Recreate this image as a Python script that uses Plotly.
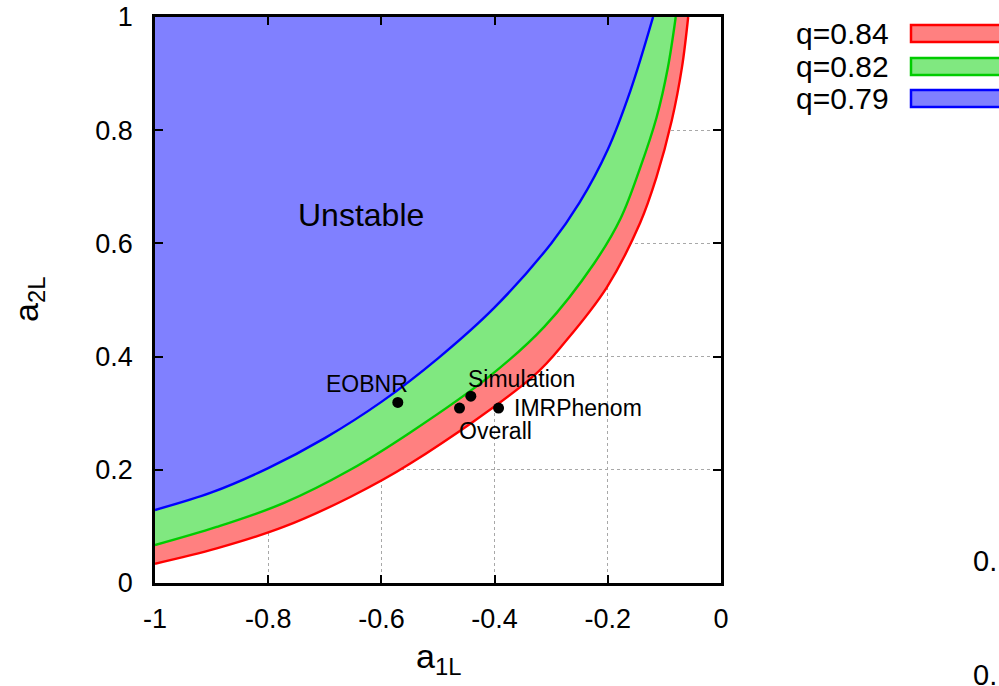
import plotly.graph_objects as go

# ---- data ----
q_labels = ["q=0.84", "q=0.82", "q=0.79"]
line_colors = ["#ff0000", "#00cc00", "#0000ff"]
fill_colors = ["#ff8080", "#80e880", "#8080ff"]

red_x = [-1.0, -0.891, -0.773, -0.655, -0.549, -0.332, -0.273, -0.202, -0.143, -0.114, -0.087, -0.069, -0.058]
red_y = [0.034, 0.061, 0.099, 0.152, 0.211, 0.365, 0.429, 0.522, 0.636, 0.717, 0.817, 0.911, 1.0]

green_x = [-1.0, -0.891, -0.773, -0.655, -0.549, -0.408, -0.312, -0.224, -0.177, -0.143, -0.114, -0.094, -0.080]
green_y = [0.067, 0.099, 0.141, 0.200, 0.266, 0.366, 0.453, 0.565, 0.645, 0.733, 0.822, 0.910, 1.0]

blue_x = [-1.0, -0.9, -0.8, -0.7, -0.6, -0.5, -0.4, -0.3, -0.25, -0.2, -0.16, -0.12]
blue_y = [0.129, 0.160, 0.203, 0.256, 0.320, 0.397, 0.487, 0.600, 0.672, 0.766, 0.870, 1.0]

curves_x = [red_x, green_x, blue_x]
curves_y = [red_y, green_y, blue_y]

point_names = ["EOBNR", "Simulation", "IMRPhenom", "Overall"]
point_x = [-0.571, -0.442, -0.393, -0.462]
point_y = [0.319, 0.330, 0.309, 0.309]
# label placement (pixel offsets / anchors) -- styling only
label_anchor = ["center", "left", "left", "left"]
label_dx = [-31, -5, 13, -3]
label_dy = [18, 17, 0, -23]

region_label = "Unstable"
region_label_xy = (-0.636, 0.650)

x_ticks = [-1, -0.8, -0.6, -0.4, -0.2, 0]
x_ticktext = ["-1", "-0.8", "-0.6", "-0.4", "-0.2", "0"]
y_ticks = [0, 0.2, 0.4, 0.6, 0.8, 1]
y_ticktext = ["0", "0.2", "0.4", "0.6", "0.8", "1"]

FONT = "Liberation Sans, Arial, Helvetica, sans-serif"

fig = go.Figure()

def closed_region(xs, ys):
    # extend curve beyond the frame along its end directions, then close
    x0e = xs[0] - (xs[1] - xs[0]) * 1.0
    y0e = ys[0] - (ys[1] - ys[0]) * 1.0
    x1e = xs[-1] + (xs[-1] - xs[-2]) * 2.0
    y1e = ys[-1] + (ys[-1] - ys[-2]) * 2.0
    px = [x0e] + list(xs) + [x1e, x1e, -1.4, -1.4]
    py = [y0e] + list(ys) + [y1e, 1.4, 1.4, y0e]
    return px, py

SMOOTH = 1.0

# filled regions (red, green, blue drawn in that order)
for i in range(3):
    px, py = closed_region(curves_x[i], curves_y[i])
    fig.add_trace(go.Scatter(
        x=px, y=py, mode="lines", fill="toself",
        fillcolor=fill_colors[i],
        line=dict(color="rgba(0,0,0,0)", width=0, shape="spline", smoothing=SMOOTH),
        name=q_labels[i], showlegend=False, hoverinfo="skip"))

for i in range(3):
    fig.add_trace(go.Scatter(
        x=curves_x[i], y=curves_y[i], mode="lines",
        line=dict(color=line_colors[i], width=2.4, shape="spline", smoothing=SMOOTH),
        showlegend=False, hoverinfo="skip"))

fig.add_trace(go.Scatter(
    x=point_x, y=point_y, mode="markers",
    marker=dict(color="black", size=11),
    showlegend=False, hoverinfo="skip"))

annotations = []
for n, xv, yv, a, dx, dy in zip(point_names, point_x, point_y, label_anchor, label_dx, label_dy):
    annotations.append(dict(x=xv, y=yv, xref="x", yref="y", text=n, showarrow=False,
                            xanchor=a, yanchor="middle", xshift=dx, yshift=dy,
                            font=dict(family=FONT, size=23, color="black")))

annotations.append(dict(x=region_label_xy[0], y=region_label_xy[1], xref="x", yref="y",
                        text=region_label, showarrow=False, xanchor="center", yanchor="middle",
                        font=dict(family=FONT, size=32, color="black")))

# axis titles
annotations.append(dict(x=(438 - 155) / 566, y=(583 - 658) / 566, xref="paper", yref="paper",
                        text="a<sub>1L</sub>", showarrow=False, xanchor="center", yanchor="middle",
                        font=dict(family=FONT, size=34, color="black")))
annotations.append(dict(x=(28 - 155) / 566, y=(583 - 300) / 566, xref="paper", yref="paper",
                        text="a<sub>2L</sub>", showarrow=False, textangle=-90,
                        xanchor="center", yanchor="middle",
                        font=dict(family=FONT, size=34, color="black")))

# legend (text left, swatch right), outside the plot on the right
shapes = []
row_top = [25, 58, 90]
for i in range(3):
    top = row_top[i]
    bot = top + 17
    shapes.append(dict(type="rect", xref="paper", yref="paper",
                       x0=(911 - 155) / 566, x1=(1012 - 155) / 566,
                       y0=(583 - bot) / 566, y1=(583 - top) / 566,
                       fillcolor=fill_colors[i], line=dict(color=line_colors[i], width=2.5)))
    annotations.append(dict(x=(891 - 155) / 566, y=(583 - (top + 8.5)) / 566,
                            xref="paper", yref="paper", text=q_labels[i], showarrow=False,
                            xanchor="right", yanchor="middle",
                            font=dict(family=FONT, size=30, color="black")))

# clipped labels from a neighbouring panel at the right edge
for yc in [561, 675]:
    annotations.append(dict(x=(971 - 155) / 566, y=(583 - yc) / 566, xref="paper", yref="paper",
                            text="0.", showarrow=False, xanchor="left", yanchor="middle",
                            font=dict(family=FONT, size=29, color="black")))

axis_common = dict(showline=True, linecolor="black", linewidth=2.5, mirror="allticks",
                   ticks="inside", ticklen=8, tickwidth=2, tickcolor="black",
                   showgrid=True, gridcolor="#a8a8a8", griddash="dot", gridwidth=1,
                   zeroline=False, automargin=False,
                   tickfont=dict(family=FONT, size=27, color="black"))

fig.update_layout(
    width=999, height=686,
    margin=dict(l=155, r=278, t=17, b=103),
    paper_bgcolor="white", plot_bgcolor="white",
    xaxis=dict(range=[-1, 0], tickvals=x_ticks, ticktext=x_ticktext,
               ticklabelstandoff=10, **axis_common),
    yaxis=dict(range=[0, 1], tickvals=y_ticks, ticktext=y_ticktext,
               ticklabelstandoff=14, **axis_common),
    annotations=annotations, shapes=shapes, showlegend=False)

fig.write_html("out.html")
